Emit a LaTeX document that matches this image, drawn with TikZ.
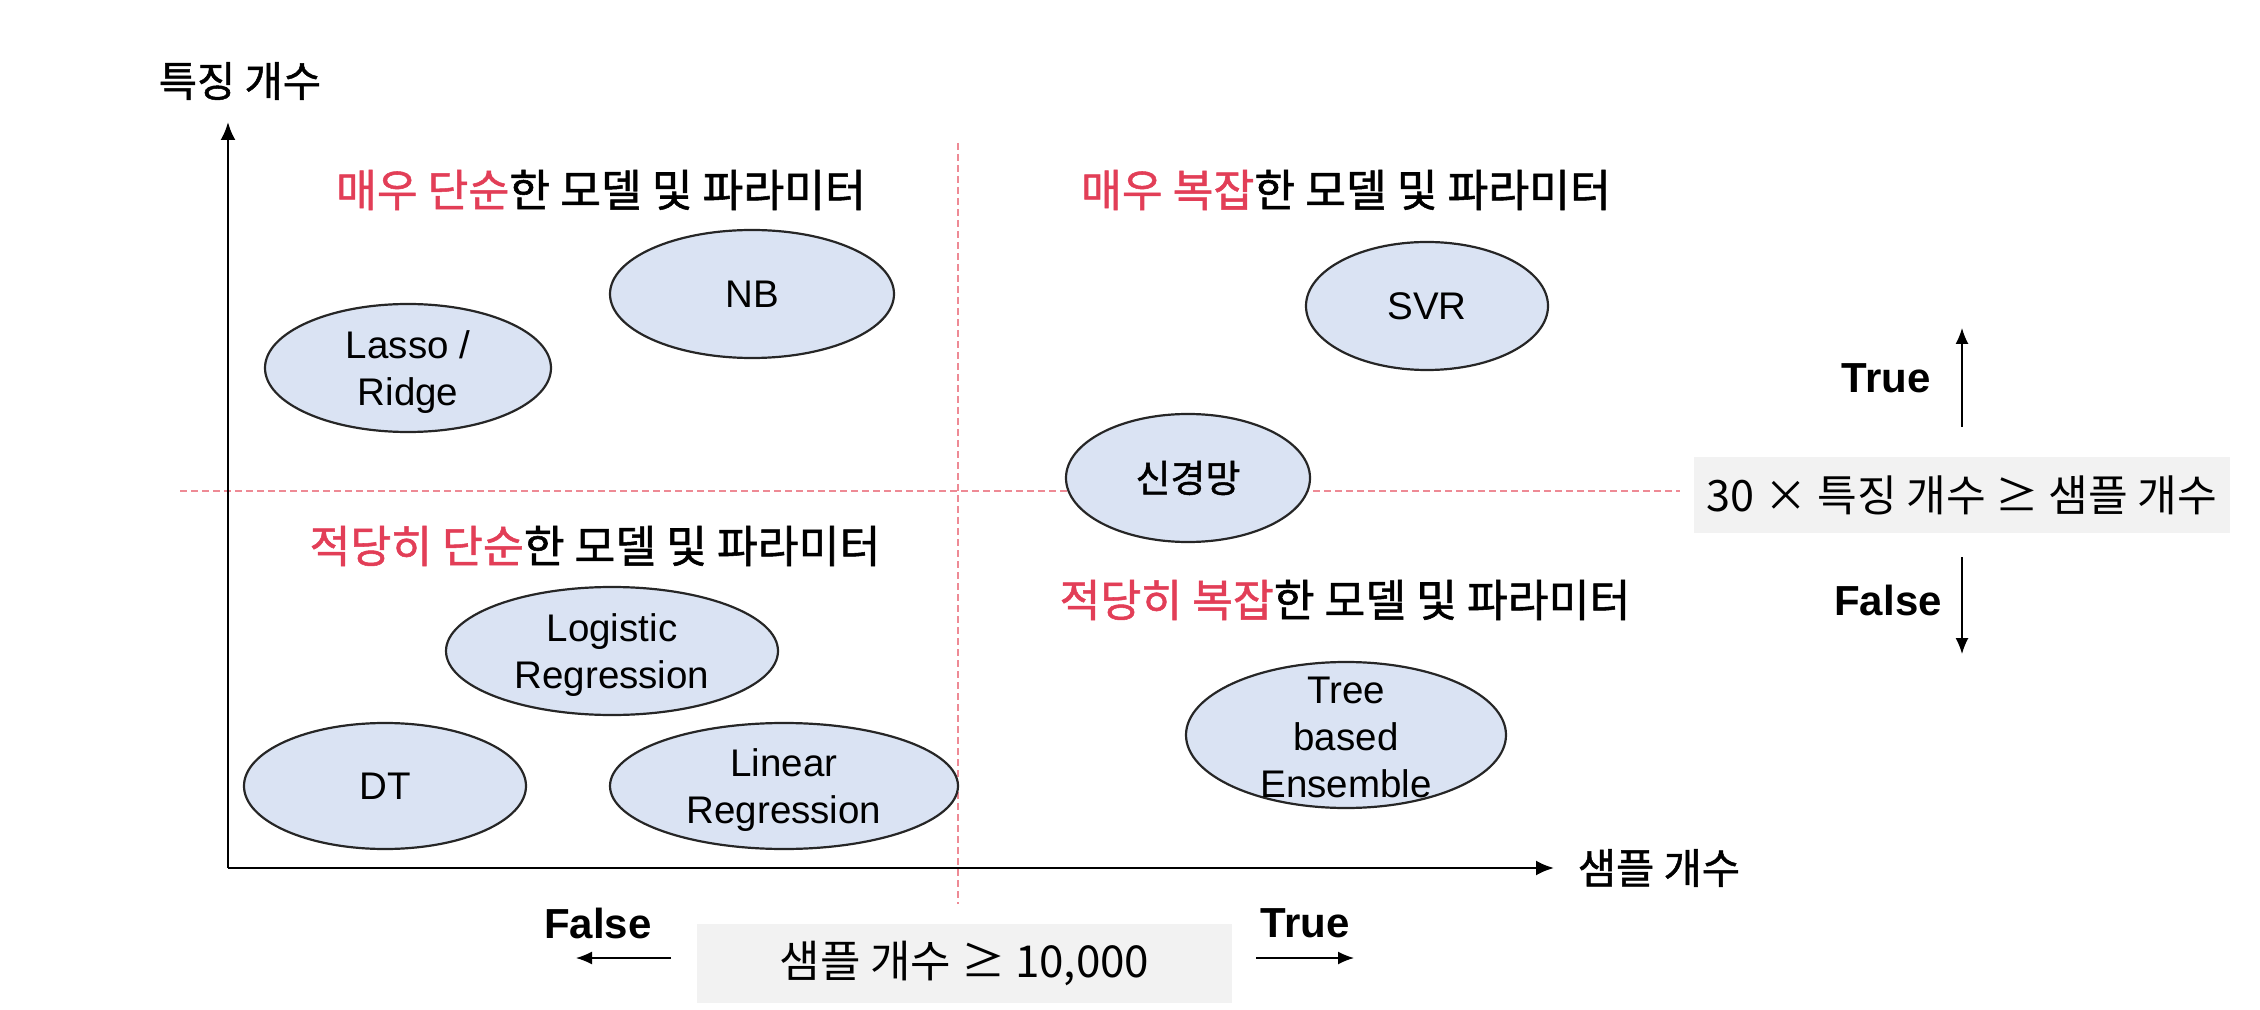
\documentclass[tikz,border=0pt]{standalone}
\usepackage{fontspec}
\setmainfont{Liberation Sans}
\newfontfamily\kr{Noto Sans CJK KR}
\newfontfamily\krm[FakeBold=1.2]{Noto Sans CJK KR}
\usetikzlibrary{shapes.geometric,arrows.meta,calc}
\definecolor{hired}{HTML}{E23E57}
\definecolor{divred}{HTML}{EE8A95}
\definecolor{ellfill}{HTML}{DAE3F3}
\definecolor{elline}{HTML}{262626}
\definecolor{boxgrey}{HTML}{F2F2F2}
\tikzset{
  ell/.style={ellipse, draw=elline, fill=ellfill, line width=1.1pt, inner sep=0pt, align=center,
    font=\fontsize{19.25}{23.5}\selectfont},
  hdr/.style={font=\krm\fontsize{22.2}{27}\selectfont, inner sep=0pt},
  axlab/.style={font=\krm\fontsize{20.8}{24}\selectfont, inner sep=0pt},
  tf/.style={font=\bfseries\fontsize{21}{25}\selectfont, inner sep=0pt},
  gbox/.style={fill=boxgrey, inner sep=0pt, font=\kr\fontsize{22}{26}\selectfont},
  axisline/.style={line width=1.25pt, -{Latex[length=9pt,width=7.5pt]}},
  tfarrow/.style={line width=0.75pt, -{Latex[length=8pt,width=6.5pt]}},
  divider/.style={draw=divred, line width=1pt, dash pattern=on 3.5pt off 2pt},
}
\begin{document}
\begin{tikzpicture}[x=0.5pt,y=-0.5pt]
\useasboundingbox (0,0) rectangle (2260,1010);
% dividers
\coordinate (vtop) at (958,143);
\coordinate (vbot) at (958,904);
\coordinate (hl) at (180,491);
\coordinate (hr) at (1680,491);
\draw[divider] (vtop) -- (vbot);
\draw[divider] (hl) -- (hr);
% axes
\coordinate (O) at (228,868);
\coordinate (ytop) at (228,122);
\coordinate (xend) at (1554,868);
\draw[axisline] (O) -- (ytop);
\draw[axisline] (O) -- (xend);
\node[axlab] (ylab) at (240,81) {특징 개수};
\node[axlab] (xlab) at (1659,868) {샘플 개수};
% headers
\node[hdr] (h1) at (601,190) {\textcolor{hired}{매우 단순}한 모델 및 파라미터};
\node[hdr] (h2) at (1346,190) {\textcolor{hired}{매우 복잡}한 모델 및 파라미터};
\node[hdr] (h3) at (595,546) {\textcolor{hired}{적당히 단순}한 모델 및 파라미터};
\node[hdr] (h4) at (1345,600) {\textcolor{hired}{적당히 복잡}한 모델 및 파라미터};
% ellipses
\node[ell, minimum width=143pt, minimum height=64pt, text depth=0pt] (lasso) at (408,368) {Lasso /\\Ridge};
\node[ell, minimum width=142pt, minimum height=64pt] (nb) at (752,294) {NB};
\node[ell, minimum width=121pt, minimum height=64pt] (svr) at (1427,306) {SVR};
\node[ell, minimum width=122pt, minimum height=64pt, font=\krm\fontsize{19}{23}\selectfont] (nn) at (1188,478) {신경망};
\node[ell, minimum width=166pt, minimum height=64pt, text depth=0pt] (logit) at (612,651) {Logistic\\Regression};
\node[ell, minimum width=141pt, minimum height=63pt] (dt) at (385,786) {DT};
\node[ell, minimum width=174pt, minimum height=63pt, text depth=0pt] (linreg) at (784,786) {Linear\\Regression};
\node[ell, minimum width=160pt, minimum height=73pt] (tree) at (1346,735) {};
\node[inner sep=0pt, align=center, font=\fontsize{19.25}{23.5}\selectfont] (treetxt) at (1346,737) {Tree\\based\\Ensemble};
% right condition
\node[gbox, minimum width=268pt, minimum height=38pt] (rbox) at (1962,495) {\fontsize{21.6}{26}\selectfont 30 × 특징 개수 ≥ 샘플 개수};
\coordinate (upS) at (1962,427);
\coordinate (upE) at (1962,328);
\coordinate (dnS) at (1962,557);
\coordinate (dnE) at (1962,654);
\draw[tfarrow] (upS) -- (upE);
\draw[tfarrow] (dnS) -- (dnE);
\node[tf] (rtrue) at (1886,378) {True};
\node[tf] (rfalse) at (1888,600) {False};
% bottom condition
\node[gbox, minimum width=267.5pt, minimum height=39.5pt] (bbox) at (964.5,963.5) {샘플 개수 ≥ 10,000};
\coordinate (lS) at (671,958);
\coordinate (lE) at (576,958);
\coordinate (rS) at (1256,958);
\coordinate (rE) at (1354,958);
\draw[tfarrow] (lS) -- (lE);
\draw[tfarrow] (rS) -- (rE);
\node[tf] (bfalse) at (598,923) {False};
\node[tf] (btrue) at (1305,923) {True};
\end{tikzpicture}
\end{document}
